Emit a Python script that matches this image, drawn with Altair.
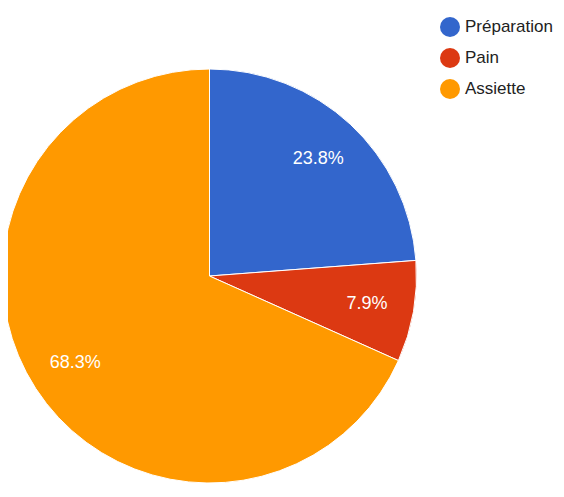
import altair as alt
import pandas as pd

categories = ["Préparation", "Pain", "Assiette"]
values = [23.8, 7.9, 68.3]
labels = ["23.8%", "7.9%", "68.3%"]
colors = ["#3366cc", "#dc3912", "#ff9900"]

df = pd.DataFrame({"cat": categories, "val": values, "label": labels, "order": [0, 1, 2]})

base = alt.Chart(df).encode(
    theta=alt.Theta("val:Q", stack=True),
    order=alt.Order("order:Q"),
    x=alt.value(201.5),
    y=alt.value(268),
)

pie = base.mark_arc(radius=207, stroke="white", strokeWidth=1).encode(
    color=alt.Color(
        "cat:N",
        scale=alt.Scale(domain=categories, range=colors),
        sort=categories,
        legend=alt.Legend(
            title=None,
            orient="none",
            legendX=432,
            legendY=9,
            symbolType="circle",
            symbolSize=400,
            symbolStrokeWidth=0,
            labelFont="Liberation Sans",
            labelFontSize=17,
            labelColor="#222222",
            labelOffset=5,
            rowPadding=11,
        ),
    )
)

text = base.mark_text(
    radius=160, color="white", font="Liberation Sans", fontSize=18,
    align="center", baseline="middle"
).encode(text="label:N")

chart = (pie + text).properties(
    width=548, height=481, padding=0, autosize=alt.AutoSizeParams(type="none")
).configure_view(stroke=None)

chart.save("out.html", embed_options={"renderer": "svg", "actions": False})
